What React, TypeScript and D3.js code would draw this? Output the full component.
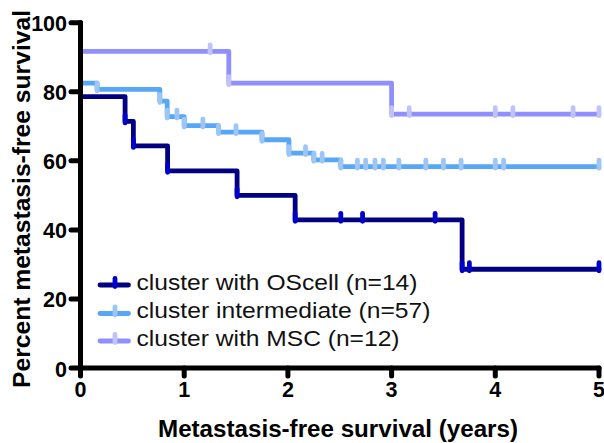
import React from "react";
import * as d3 from "d3";

// ---- data ----
const xTicks = [0, 1, 2, 3, 4, 5];
const yTicks = [0, 20, 40, 60, 80, 100];

// steps: [time, survival after the drop]
const osSteps: [number, number][] = [
  [0, 78.6], [0.43, 71.4], [0.51, 64.3], [0.84, 57.1], [1.51, 50.0], [2.07, 42.9], [3.68, 28.6],
];
const osCensors = [2.51, 2.72, 3.42, 3.75, 5.0];

const intSteps: [number, number][] = [
  [0, 82.5], [0.16, 80.7], [0.765, 77.3], [0.836, 72.8], [1.0, 70.2], [1.33, 68.3],
  [1.75, 66.1], [2.01, 62.2], [2.25, 60.3], [2.51, 58.3],
];
const intCensors = [0.93, 1.18, 1.5, 2.17, 2.33, 2.67, 2.75, 2.84, 2.92, 3.07, 3.33, 3.5, 3.67, 4.0, 4.08, 5.0];

const mscSteps: [number, number][] = [[0, 91.7], [1.43, 82.5], [3.0, 73.5]];
const mscCensors = [1.25, 3.17, 4.0, 4.17, 4.75, 5.0];

const seriesNames = ["cluster with OScell (n=14)", "cluster intermediate (n=57)", "cluster with MSC (n=12)"];
const lineColors = ["#000080", "#57A6F8", "#8F8FFD"];
const markColors = ["#0000CC", "#9DC6F7", "#C2C2FB"];

const series = [
  { name: seriesNames[0], steps: osSteps, censors: osCensors, line: lineColors[0], mark: markColors[0] },
  { name: seriesNames[1], steps: intSteps, censors: intCensors, line: lineColors[1], mark: markColors[1] },
  { name: seriesNames[2], steps: mscSteps, censors: mscCensors, line: lineColors[2], mark: markColors[2] },
];

// legend layout (pixels)
const legendY = [285, 313.5, 341];
const legendTextWidth = [281, 294, 263];

const W = 604;
const H = 443;
const FONT = "Arial, 'Liberation Sans', Helvetica, sans-serif";

export default function App() {
  const x = d3.scaleLinear().domain([0, 5]).range([80.5, 599]);
  const y = d3.scaleLinear().domain([0, 100]).range([368, 22.7]);

  const valueAt = (steps: [number, number][], t: number) => {
    let v = 100;
    for (const [st, sv] of steps) if (st <= t) v = sv;
    return v;
  };

  const lineGen = d3
    .line<[number, number]>()
    .x((d) => x(d[0]))
    .y((d) => y(d[1]))
    .curve(d3.curveStepAfter);

  const mark = (px: number, py: number, color: string, key: string) => (
    <line key={key} x1={px} x2={px} y1={py - 6.5} y2={py + 1.5} stroke={color} strokeWidth={4.8} strokeLinecap="round" />
  );

  return (
    <svg width={W} height={H} style={{ position: "absolute", left: 0, top: 0, background: "#fff" }}>
      {/* curves */}
      {series.map((s, i) => {
        const last = s.steps[s.steps.length - 1][1];
        const pts: [number, number][] = [[0, 100], ...s.steps, [5, last]];
        return (
          <g key={i}>
            <path d={lineGen(pts) || ""} fill="none" stroke={s.line} strokeWidth={4.8} strokeLinejoin="round" strokeLinecap="round" />
            {s.steps.map(([t, v], j) => mark(x(t), y(v), s.mark, "e" + j))}
            {s.censors.map((t, j) => mark(x(t), y(valueAt(s.steps, t)), s.mark, "c" + j))}
          </g>
        );
      })}

      {/* axes */}
      <line x1={x(0)} x2={x(0)} y1={y(100)} y2={y(0)} stroke="#000" strokeWidth={5} strokeLinecap="round" />
      <line x1={x(0)} x2={x(5)} y1={y(0)} y2={y(0)} stroke="#000" strokeWidth={5} strokeLinecap="round" />
      {yTicks.map((t) => (
        <g key={"y" + t}>
          <line x1={x(0) - 9.5} x2={x(0)} y1={y(t)} y2={y(t)} stroke="#000" strokeWidth={5} strokeLinecap="round" />
          <text x={67} y={y(t) + 8.5} textAnchor="end" fontFamily={FONT} fontWeight="bold" fontSize={21.5} fill="#000">
            {t}
          </text>
        </g>
      ))}
      {xTicks.map((t) => (
        <g key={"x" + t}>
          <line x1={x(t)} x2={x(t)} y1={y(0)} y2={y(0) + 8} stroke="#000" strokeWidth={5} strokeLinecap="round" />
          <text x={x(t)} y={397} textAnchor="middle" fontFamily={FONT} fontWeight="bold" fontSize={21.5} fill="#000">
            {t}
          </text>
        </g>
      ))}

      {/* axis titles */}
      <text
        x={338}
        y={437}
        textAnchor="middle"
        fontFamily={FONT}
        fontWeight="bold"
        fontSize={23}
        textLength={360}
        lengthAdjust="spacingAndGlyphs"
        fill="#000"
      >
        Metastasis-free survival (years)
      </text>
      <text
        transform={`translate(29.5,199) rotate(-90)`}
        textAnchor="middle"
        fontFamily={FONT}
        fontWeight="bold"
        fontSize={23}
        textLength={378}
        lengthAdjust="spacingAndGlyphs"
        fill="#000"
      >
        Percent metastasis-free survival
      </text>

      {/* legend */}
      {series.map((s, i) => (
        <g key={"l" + i}>
          <line x1={100} x2={128.5} y1={legendY[i]} y2={legendY[i]} stroke={s.line} strokeWidth={4.8} strokeLinecap="round" />
          {mark(115, legendY[i], s.mark, "lm" + i)}
          <text
            x={136.5}
            y={legendY[i] + 4.5}
            fontFamily={FONT}
            fontSize={22.5}
            textLength={legendTextWidth[i]}
            lengthAdjust="spacingAndGlyphs"
            fill="#111"
          >
            {s.name}
          </text>
        </g>
      ))}
    </svg>
  );
}
